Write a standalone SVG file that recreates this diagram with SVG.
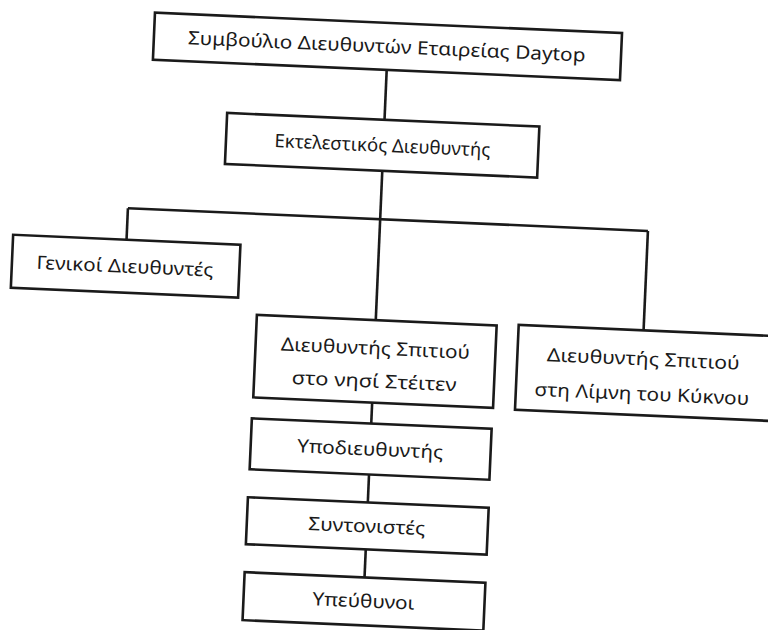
<svg xmlns="http://www.w3.org/2000/svg" width="768" height="630" viewBox="0 0 768 630">
<style>
.box{fill:#fff;stroke:#1a1a1a;stroke-width:2.6}
.ln{fill:none;stroke:#1a1a1a;stroke-width:2.6}
text{font-family:"Noto Sans","Open Sans","DejaVu Sans",sans-serif;font-size:18.5px;fill:#1a1a1a;text-anchor:middle}
</style>
<rect width="768" height="630" fill="#fff"/>
<g transform="rotate(2.5 384 315)">
<g id="connectors" class="ln">
<path d="M376 70V120"/>
<path d="M376 171V219.5"/>
<path d="M123.5 219.5H644"/>
<path d="M123.5 219.5V251"/>
<path d="M376 219.5V320.5"/>
<path d="M644 219.5V319"/>
<path d="M376 403V424"/>
<path d="M376 475V503"/>
<path d="M376 550V578"/>
</g>
<g id="board">
<rect class="box" x="142" y="23" width="467.5" height="47"/>
<text x="375" y="53" textLength="398" lengthAdjust="spacingAndGlyphs">Συμβούλιο Διευθυντών Εταιρείας Daytop</text>
</g>
<g id="executive">
<rect class="box" x="218.5" y="120" width="312.5" height="51"/>
<text x="375" y="152" textLength="216" lengthAdjust="spacingAndGlyphs">Εκτελεστικός Διευθυντής</text>
</g>
<g id="general">
<rect class="box" x="10" y="251" width="227.5" height="53"/>
<text x="123" y="284" textLength="177" lengthAdjust="spacingAndGlyphs">Γενικοί Διευθυντές</text>
</g>
<g id="staten">
<rect class="box" x="257" y="320.5" width="240" height="82.5"/>
<text x="377" y="355" textLength="189" lengthAdjust="spacingAndGlyphs">Διευθυντής Σπιτιού</text>
<text x="377" y="388" textLength="165" lengthAdjust="spacingAndGlyphs">στο νησί Στέιτεν</text>
</g>
<g id="swanlake">
<rect class="box" x="519" y="319" width="258" height="85"/>
<text x="645" y="354" textLength="193" lengthAdjust="spacingAndGlyphs">Διευθυντής Σπιτιού</text>
<text x="645" y="389" textLength="215" lengthAdjust="spacingAndGlyphs">στη Λίμνη του Κύκνου</text>
</g>
<g id="deputy">
<rect class="box" x="256.5" y="424" width="240" height="51"/>
<text x="376" y="456" textLength="146" lengthAdjust="spacingAndGlyphs">Υποδιευθυντής</text>
</g>
<g id="coordinators">
<rect class="box" x="256" y="503" width="241" height="47"/>
<text x="376" y="533" textLength="117" lengthAdjust="spacingAndGlyphs">Συντονιστές</text>
</g>
<g id="supervisors">
<rect class="box" x="256" y="578" width="241" height="48"/>
<text x="376" y="608" textLength="102" lengthAdjust="spacingAndGlyphs">Υπεύθυνοι</text>
</g>
</g>
</svg>
